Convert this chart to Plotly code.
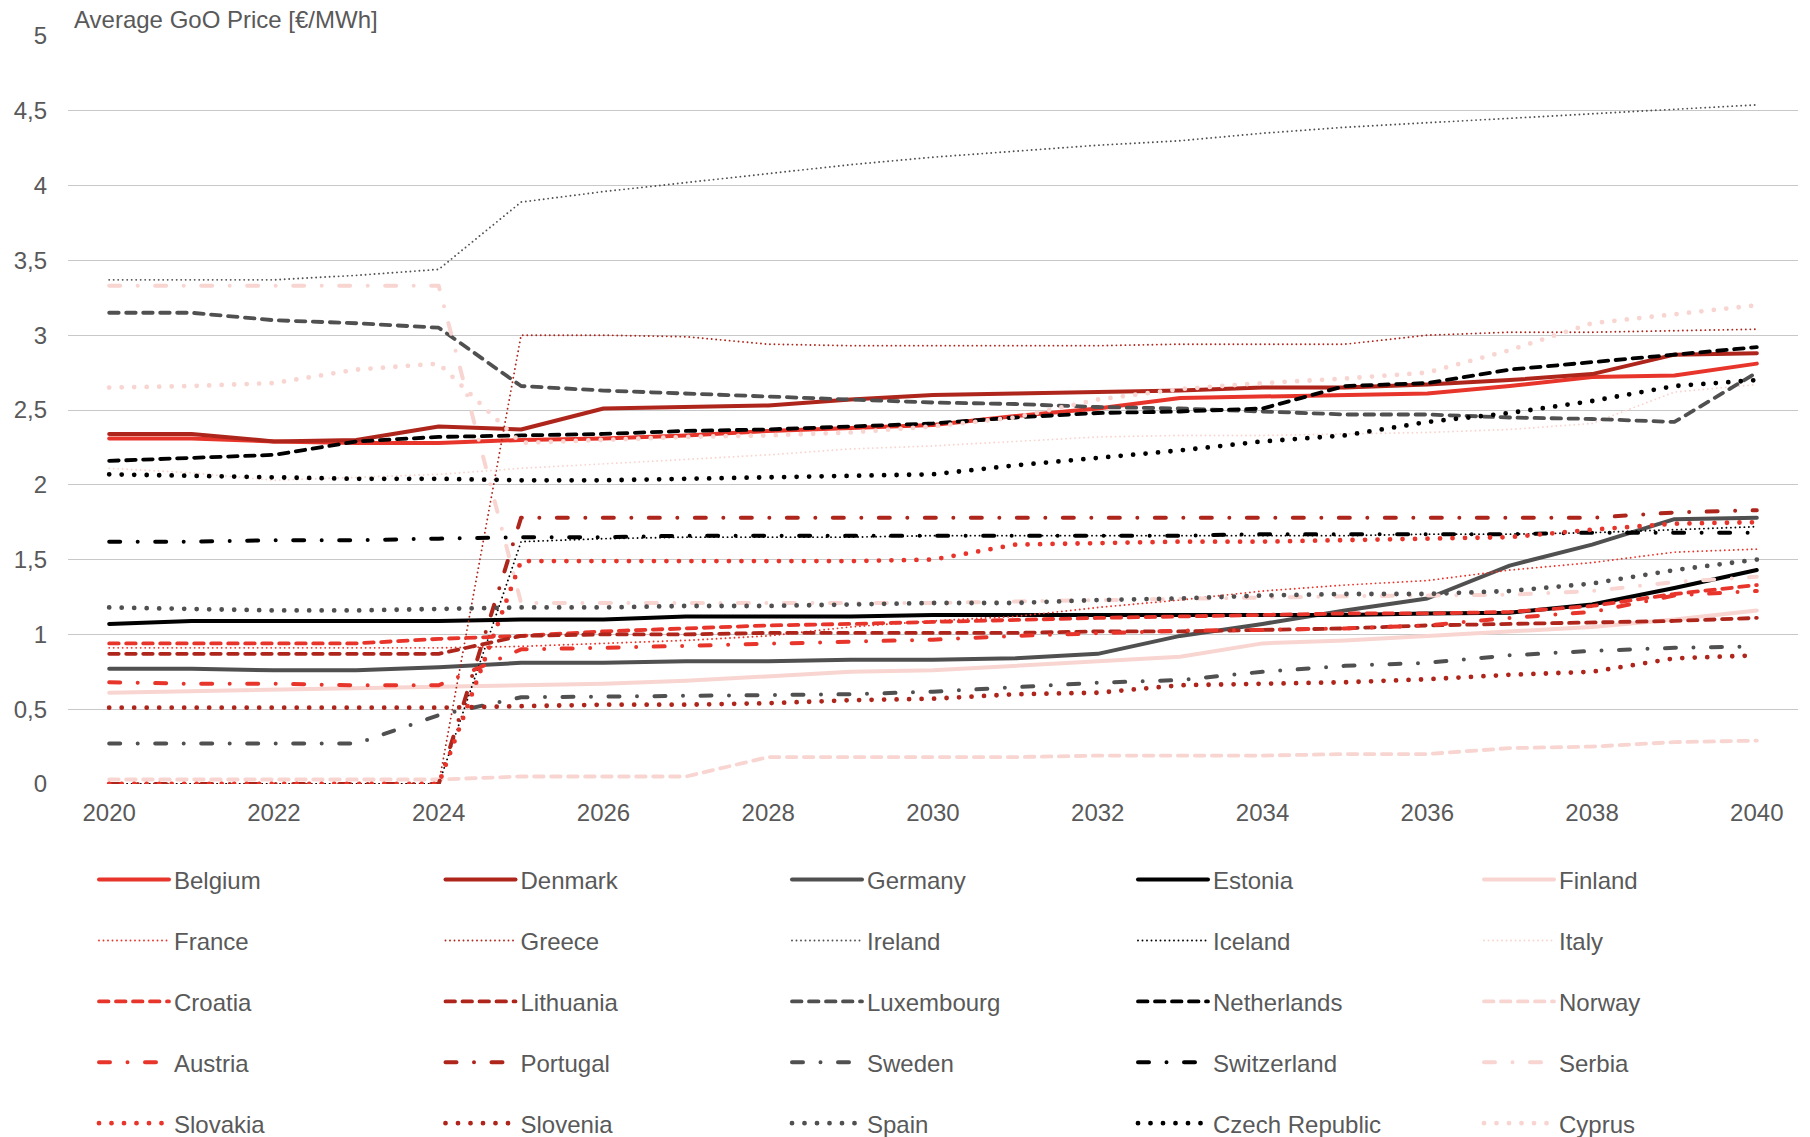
import plotly.graph_objects as go

# Years on the category axis
years = list(range(2020, 2041))

# Average GoO price per country [€/MWh], 2020–2040
belgium = [2.31, 2.31, 2.29, 2.28, 2.28, 2.30, 2.31, 2.33, 2.36, 2.38, 2.40, 2.46, 2.51, 2.58, 2.59, 2.60, 2.61, 2.66, 2.72, 2.73, 2.81]
denmark = [2.34, 2.34, 2.29, 2.30, 2.39, 2.37, 2.51, 2.52, 2.53, 2.57, 2.60, 2.61, 2.62, 2.63, 2.65, 2.65, 2.67, 2.70, 2.74, 2.87, 2.88]
germany = [0.77, 0.77, 0.76, 0.76, 0.78, 0.81, 0.81, 0.82, 0.82, 0.83, 0.83, 0.84, 0.87, 0.99, 1.07, 1.16, 1.24, 1.46, 1.60, 1.77, 1.78]
estonia = [1.07, 1.09, 1.09, 1.09, 1.09, 1.10, 1.10, 1.12, 1.12, 1.12, 1.13, 1.13, 1.13, 1.13, 1.13, 1.13, 1.14, 1.145, 1.20, 1.31, 1.43]
finland = [0.61, 0.62, 0.63, 0.64, 0.65, 0.66, 0.67, 0.69, 0.72, 0.75, 0.76, 0.79, 0.82, 0.85, 0.94, 0.96, 0.99, 1.02, 1.05, 1.10, 1.16]
france = [0.91, 0.91, 0.91, 0.91, 0.91, 0.92, 0.94, 0.96, 0.99, 1.05, 1.09, 1.12, 1.18, 1.23, 1.29, 1.33, 1.36, 1.43, 1.48, 1.55, 1.57]
greece = [0, 0, 0, 0, 0, 3.00, 3.00, 2.99, 2.94, 2.93, 2.93, 2.93, 2.93, 2.94, 2.94, 2.94, 3.00, 3.02, 3.02, 3.03, 3.04]
ireland = [3.37, 3.37, 3.37, 3.40, 3.44, 3.89, 3.96, 4.02, 4.08, 4.14, 4.19, 4.23, 4.27, 4.30, 4.35, 4.39, 4.42, 4.45, 4.48, 4.51, 4.54]
iceland = [0, 0, 0, 0, 0, 1.62, 1.64, 1.65, 1.65, 1.65, 1.66, 1.66, 1.66, 1.66, 1.66, 1.66, 1.67, 1.67, 1.68, 1.70, 1.72]
italy = [2.11, 2.08, 2.03, 2.05, 2.07, 2.11, 2.14, 2.17, 2.20, 2.24, 2.26, 2.29, 2.32, 2.33, 2.33, 2.34, 2.35, 2.37, 2.41, 2.62, 2.67]
croatia = [0.94, 0.94, 0.94, 0.94, 0.97, 0.99, 1.02, 1.04, 1.06, 1.07, 1.085, 1.10, 1.11, 1.12, 1.13, 1.14, 1.14, 1.15, 1.19, 1.27, 1.33]
lithuania = [0.87, 0.87, 0.87, 0.87, 0.87, 0.99, 1.00, 1.00, 1.01, 1.01, 1.01, 1.01, 1.02, 1.02, 1.03, 1.04, 1.06, 1.07, 1.08, 1.09, 1.11]
luxembourg = [3.15, 3.15, 3.10, 3.08, 3.05, 2.66, 2.63, 2.61, 2.59, 2.57, 2.55, 2.54, 2.52, 2.51, 2.49, 2.47, 2.47, 2.45, 2.44, 2.42, 2.75]
netherlands = [2.16, 2.18, 2.20, 2.29, 2.32, 2.33, 2.34, 2.36, 2.37, 2.39, 2.41, 2.45, 2.48, 2.49, 2.51, 2.66, 2.68, 2.77, 2.82, 2.87, 2.92]
norway = [0.03, 0.03, 0.03, 0.03, 0.03, 0.05, 0.05, 0.05, 0.18, 0.18, 0.18, 0.18, 0.19, 0.19, 0.19, 0.20, 0.20, 0.24, 0.25, 0.28, 0.29]
austria = [0.68, 0.67, 0.67, 0.66, 0.66, 0.90, 0.91, 0.925, 0.94, 0.955, 0.965, 0.99, 1.01, 1.025, 1.03, 1.04, 1.06, 1.11, 1.15, 1.26, 1.29]
portugal = [0, 0, 0, 0, 0, 1.78, 1.78, 1.78, 1.78, 1.78, 1.78, 1.78, 1.78, 1.78, 1.78, 1.78, 1.78, 1.78, 1.78, 1.815, 1.83]
sweden = [0.27, 0.27, 0.27, 0.27, 0.46, 0.58, 0.584, 0.588, 0.59, 0.60, 0.617, 0.646, 0.677, 0.695, 0.75, 0.79, 0.81, 0.86, 0.89, 0.91, 0.92]
switzerland = [1.62, 1.62, 1.63, 1.63, 1.64, 1.65, 1.65, 1.66, 1.66, 1.66, 1.66, 1.66, 1.66, 1.66, 1.67, 1.67, 1.67, 1.67, 1.68, 1.68, 1.68]
serbia = [3.33, 3.33, 3.33, 3.33, 3.33, 1.21, 1.21, 1.21, 1.21, 1.21, 1.21, 1.22, 1.23, 1.235, 1.25, 1.255, 1.26, 1.265, 1.29, 1.35, 1.385]
slovakia = [0, 0, 0, 0, 0, 1.49, 1.49, 1.49, 1.49, 1.49, 1.50, 1.60, 1.61, 1.62, 1.62, 1.63, 1.64, 1.65, 1.70, 1.74, 1.75]
slovenia = [0.51, 0.51, 0.51, 0.51, 0.51, 0.52, 0.53, 0.53, 0.54, 0.56, 0.57, 0.60, 0.61, 0.66, 0.67, 0.68, 0.70, 0.73, 0.75, 0.84, 0.86]
spain = [1.18, 1.17, 1.16, 1.16, 1.17, 1.18, 1.18, 1.19, 1.19, 1.20, 1.21, 1.21, 1.23, 1.24, 1.26, 1.27, 1.27, 1.29, 1.34, 1.43, 1.50]
czech_republic = [2.07, 2.06, 2.05, 2.04, 2.04, 2.03, 2.03, 2.04, 2.05, 2.06, 2.07, 2.13, 2.18, 2.23, 2.29, 2.33, 2.42, 2.48, 2.56, 2.66, 2.70]
cyprus = [2.65, 2.66, 2.68, 2.77, 2.81, 2.28, 2.30, 2.32, 2.33, 2.35, 2.39, 2.45, 2.57, 2.64, 2.68, 2.71, 2.75, 2.90, 3.08, 3.14, 3.20]

country_names = [
    "Belgium", "Denmark", "Germany", "Estonia", "Finland",
    "France", "Greece", "Ireland", "Iceland", "Italy",
    "Croatia", "Lithuania", "Luxembourg", "Netherlands", "Norway",
    "Austria", "Portugal", "Sweden", "Switzerland", "Serbia",
    "Slovakia", "Slovenia", "Spain", "Czech Republic", "Cyprus",
]
country_values = [
    belgium, denmark, germany, estonia, finland,
    france, greece, ireland, iceland, italy,
    croatia, lithuania, luxembourg, netherlands, norway,
    austria, portugal, sweden, switzerland, serbia,
    slovakia, slovenia, spain, czech_republic, cyprus,
]

y_tick_values = [0, 0.5, 1, 1.5, 2, 2.5, 3, 3.5, 4, 4.5, 5]
y_tick_labels = ["0", "0,5", "1", "1,5", "2", "2,5", "3", "3,5", "4", "4,5", "5"]
x_tick_values = list(range(2020, 2041, 2))
x_tick_labels = [str(y) for y in x_tick_values]

# Five colours cycle across the columns, five line styles down the rows
palette = ["#E8352B", "#AE251B", "#505050", "#000000", "#F8D5D0"]
row_styles = [
    dict(width=4.0, dash="solid"),
    dict(width=1.9, dash="0px,4.5px"),
    dict(width=3.8, dash="9.5px,7.5px"),
    dict(width=4.0, dash="11px,17.5px,0px,17.5px"),
    dict(width=4.8, dash="0px,12.5px"),
]

FONT = "Liberation Sans, Arial, sans-serif"
TEXT_GREY = "#595959"
FS = 24

# Plot-area geometry in pixels
W, H = 1810, 1137
M_L, M_R, M_T, M_B = 68, 12, 36, 353
PW = W - M_L - M_R
PH = H - M_T - M_B

legend_names = ["legend", "legend2", "legend3", "legend4", "legend5"]
legend_cols_px = [99, 445.5, 792, 1138, 1484]

fig = go.Figure()
for i, (name, vals) in enumerate(zip(country_names, country_values)):
    col, row = i % 5, i // 5
    st = row_styles[row]
    fig.add_trace(go.Scatter(
        x=years, y=vals, name=name, mode="lines",
        line=dict(color=palette[col], width=st["width"], dash=st["dash"]),
        legend=legend_names[col], legendgroup=name,
        hovertemplate="%{x}: %{y}<extra>" + name + "</extra>",
    ))

layout_legends = {}
for col, lname in enumerate(legend_names):
    layout_legends[lname] = dict(
        x=(legend_cols_px[col] - 5 - M_L) / PW,
        xanchor="left",
        y=(M_T + PH - 857.5) / PH,
        yanchor="top",
        orientation="v",
        traceorder="grouped",
        tracegroupgap=26.7,
        itemwidth=70,
        font=dict(family=FONT, size=FS, color=TEXT_GREY),
        bgcolor="rgba(0,0,0,0)",
        borderwidth=0,
    )

fig.update_layout(
    width=W, height=H, autosize=False,
    margin=dict(l=M_L, r=M_R, t=M_T, b=M_B, pad=0, autoexpand=False),
    paper_bgcolor="white", plot_bgcolor="white",
    font=dict(family=FONT, size=FS, color=TEXT_GREY),
    showlegend=True,
    **layout_legends,
    xaxis=dict(
        range=[2019.5, 2040.5], tickvals=x_tick_values, ticktext=x_tick_labels,
        showgrid=False, zeroline=False, showline=False, ticks="",
        ticklabelstandoff=12,
        tickfont=dict(family=FONT, size=FS, color=TEXT_GREY),
    ),
    yaxis=dict(
        range=[0, 5], tickvals=y_tick_values, ticktext=y_tick_labels,
        showgrid=True, gridcolor="#C8C8C8", gridwidth=1.3,
        zeroline=False, showline=False, ticks="",
        ticklabelstandoff=20,
        tickfont=dict(family=FONT, size=FS, color=TEXT_GREY),
    ),
    annotations=[dict(
        text="Average GoO Price [€/MWh]", showarrow=False,
        xref="paper", yref="paper", x=(72 - M_L) / PW, xanchor="left",
        y=1 + 16 / PH, yanchor="middle",
        font=dict(family=FONT, size=FS, color=TEXT_GREY),
    )],
)

# Round caps and joins, so the dotted styles draw as round dots
round_caps = (
    "var s=document.createElement('style');"
    "s.textContent='path.js-line{stroke-linecap:round;stroke-linejoin:round;}';"
    "document.head.appendChild(s);"
)

fig.write_html("out.html", post_script=round_caps)
